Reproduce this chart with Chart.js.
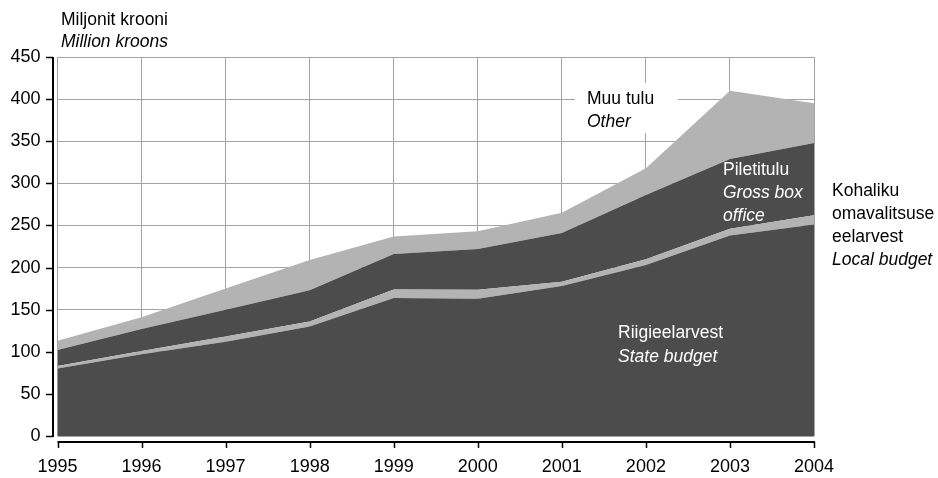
<!DOCTYPE html>
<html>
<head>
<meta charset="utf-8">
<script src="https://cdn.jsdelivr.net/npm/chart.js@4/dist/chart.umd.min.js"></script>
<style>
  html, body { margin: 0; padding: 0; background: #fff; }
  #wrap { width: 938px; height: 478px; position: relative; }
</style>
</head>
<body>
<div id="wrap"><canvas id="c" width="938" height="478"></canvas></div>
<script>
// ---- Data (million kroons) ----
const years = ['1995','1996','1997','1998','1999','2000','2001','2002','2003','2004'];
const stateBudget = [80, 97, 112, 130, 164, 163, 178, 203, 238, 251];
const localBudget = [3, 4, 6, 6, 10, 10.5, 5, 7, 8, 11];
const boxOffice   = [19, 26, 32, 37, 42, 48.5, 58, 76, 83, 86];
const otherIncome = [11, 14, 25, 36, 21, 21, 24, 32, 81, 47];
const yTicks = [0, 50, 100, 150, 200, 250, 300, 350, 400, 450];

const DARK = '#4c4c4c';
const LIGHT = '#b3b3b3';
const FONT = "'Liberation Sans', Arial, Helvetica, sans-serif";

Chart.defaults.font.family = FONT;

const annotations = {
  id: 'annotations',
  beforeDatasetsDraw(chart) {
    const ctx = chart.ctx;
    ctx.save();
    ctx.fillStyle = '#ffffff';
    ctx.fillRect(575, 83, 103, 50);
    ctx.restore();
  },
  afterDraw(chart) {
    const ctx = chart.ctx;
    const x = chart.scales.x, y = chart.scales.y;
    ctx.save();
    // Y axis line + ticks
    ctx.strokeStyle = '#000';
    ctx.lineWidth = 2;
    ctx.beginPath();
    ctx.moveTo(53, y.getPixelForValue(450));
    ctx.lineTo(53, y.getPixelForValue(0) + 1);
    ctx.stroke();
    ctx.lineWidth = 1.5;
    yTicks.forEach(v => {
      const py = Math.round(y.getPixelForValue(v)) + 0.5;
      ctx.beginPath();
      ctx.moveTo(46, py);
      ctx.lineTo(53, py);
      ctx.stroke();
    });
    // X axis line + ticks
    ctx.lineWidth = 2;
    const axY = 442;
    ctx.beginPath();
    ctx.moveTo(x.getPixelForValue(0), axY);
    ctx.lineTo(x.getPixelForValue(years.length - 1) + 1, axY);
    ctx.stroke();
    ctx.lineWidth = 1.5;
    years.forEach((yr, i) => {
      const px = Math.round(x.getPixelForValue(i)) + 0.5;
      ctx.beginPath();
      ctx.moveTo(px, axY);
      ctx.lineTo(px, axY + 6);
      ctx.stroke();
    });

    // Text labels
    ctx.textAlign = 'left';
    ctx.textBaseline = 'alphabetic';
    const norm = '17.5px ' + FONT;
    const ital = 'italic 17.5px ' + FONT;
    function t(str, px, py, italic, color) {
      ctx.font = italic ? ital : norm;
      ctx.fillStyle = color;
      ctx.fillText(str, px, py);
    }
    t('Miljonit krooni', 61, 25, false, '#000');
    t('Million kroons', 61, 47, true, '#000');

    t('Muu tulu', 587, 104, false, '#000');
    t('Other', 587, 127, true, '#000');

    t('Piletitulu', 723, 175, false, '#fff');
    t('Gross box', 723, 198, true, '#fff');
    t('office', 723, 221, true, '#fff');

    t('Riigieelarvest', 618, 338, false, '#fff');
    t('State budget', 618, 362, true, '#fff');

    t('Kohaliku', 832, 196, false, '#000');
    t('omavalitsuse', 832, 219, false, '#000');
    t('eelarvest', 832, 242, false, '#000');
    t('Local budget', 832, 265, true, '#000');
    ctx.restore();
  }
};

function ds(label, data, color, fill) {
  return {
    label, data,
    backgroundColor: color,
    borderColor: color,
    borderWidth: 0,
    pointRadius: 0,
    tension: 0,
    fill
  };
}

new Chart(document.getElementById('c'), {
  type: 'line',
  data: {
    labels: years,
    datasets: [
      ds('Riigieelarvest / State budget', stateBudget, DARK, 'origin'),
      ds('Kohaliku omavalitsuse eelarvest / Local budget', localBudget, LIGHT, '-1'),
      ds('Piletitulu / Gross box office', boxOffice, DARK, '-1'),
      ds('Muu tulu / Other', otherIncome, LIGHT, '-1')
    ]
  },
  options: {
    responsive: false,
    animation: false,
    events: [],
    layout: { padding: { left: 0, right: 124, top: 57, bottom: 0 } },
    plugins: {
      legend: { display: false },
      tooltip: { enabled: false },
      title: { display: false }
    },
    scales: {
      x: {
        type: 'category',
        offset: false,
        afterFit(scale) { scale.height = 42; },
        grid: { color: '#a3a3a3', lineWidth: 1, drawTicks: false },
        border: { display: false },
        ticks: {
          color: '#000',
          font: { size: 18, family: FONT },
          padding: 20,
          maxRotation: 0,
          autoSkip: false
        }
      },
      y: {
        stacked: true,
        min: 0,
        max: 450,
        afterFit(scale) { scale.width = 57.5; },
        afterBuildTicks(scale) { scale.ticks = yTicks.map(v => ({ value: v })); },
        grid: { color: '#a3a3a3', lineWidth: 1, drawTicks: false },
        border: { display: false },
        ticks: {
          color: '#000',
          font: { size: 18, family: FONT },
          padding: 17,
          stepSize: 50
        }
      }
    }
  },
  plugins: [annotations]
});
</script>
</body>
</html>
